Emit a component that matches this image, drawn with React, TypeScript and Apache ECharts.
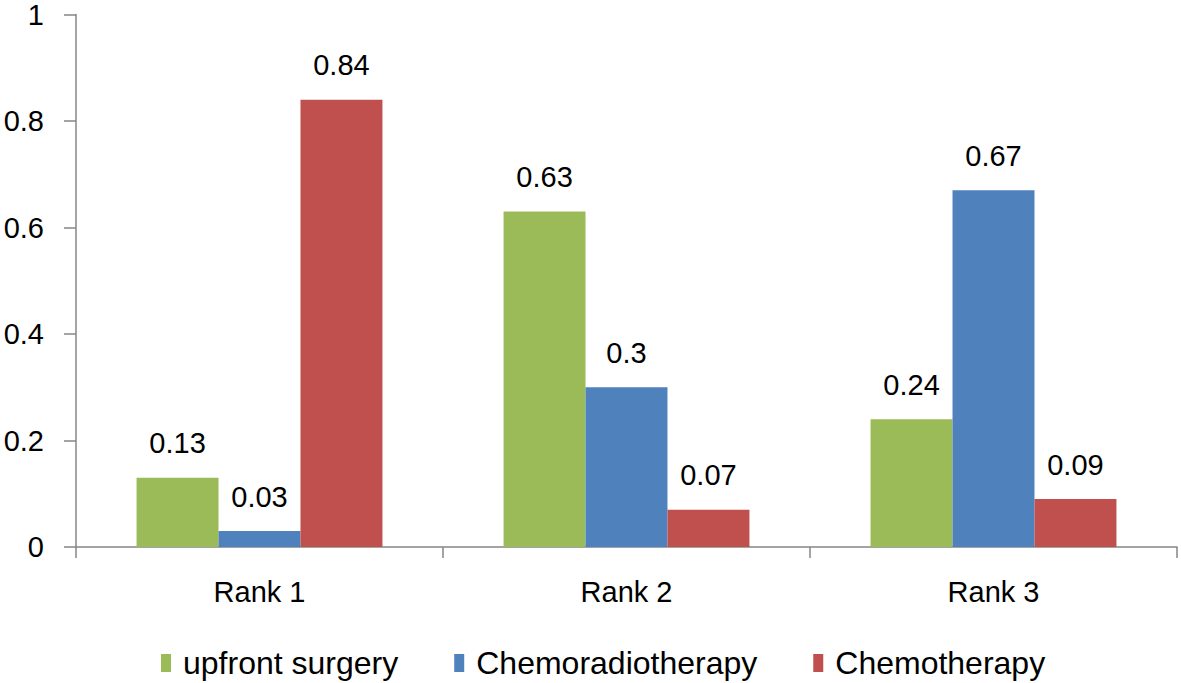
import React, { useEffect, useRef } from "react";
import * as echarts from "echarts";

const categories = ["Rank 1", "Rank 2", "Rank 3"];
const seriesNames = ["upfront surgery", "Chemoradiotherapy", "Chemotherapy"];
const upfrontSurgery = [0.13, 0.63, 0.24];
const chemoradiotherapy = [0.03, 0.3, 0.67];
const chemotherapy = [0.84, 0.07, 0.09];
const colors = ["#9BBB59", "#4F81BD", "#C0504D"];

const FONT = "'Liberation Sans', Arial, sans-serif";

export default function App() {
  const ref = useRef<HTMLDivElement>(null);
  useEffect(() => {
    document.body.style.margin = "0";
    const chart = echarts.init(ref.current!, null, { renderer: "svg" });
    const values = [upfrontSurgery, chemoradiotherapy, chemotherapy];
    chart.setOption({
      animation: false,
      backgroundColor: "#ffffff",
      textStyle: { fontFamily: FONT },
      grid: { left: 76, right: 4, top: 14, bottom: 136, containLabel: false },
      legend: {
        top: 647,
        left: 161,
        padding: 0,
        itemWidth: 10,
        itemHeight: 18,
        itemGap: 56,
        icon: "rect",
        textStyle: { fontSize: 32, color: "#000", fontFamily: FONT, padding: [0, 0, 0, 7] },
        data: seriesNames,
      },
      xAxis: {
        type: "category",
        data: categories,
        axisLine: { lineStyle: { color: "#868686", width: 1.5 } },
        axisTick: { show: true, length: 11, lineStyle: { color: "#868686", width: 1.5 } },
        axisLabel: { fontSize: 29, color: "#000", margin: 30, fontFamily: FONT },
        splitLine: { show: false },
      },
      yAxis: {
        type: "value",
        min: 0,
        max: 1,
        interval: 0.2,
        axisLine: { show: true, lineStyle: { color: "#868686", width: 1.5 } },
        axisTick: { show: true, length: 12, lineStyle: { color: "#868686", width: 1.5 } },
        axisLabel: { fontSize: 29, color: "#000", margin: 32, fontFamily: FONT },
        splitLine: { show: false },
      },
      series: seriesNames.map((name, i) => ({
        name,
        type: "bar",
        data: values[i],
        barGap: "0%",
        barCategoryGap: "33%",
        itemStyle: { color: colors[i] },
        label: {
          show: true,
          position: "top",
          distance: 20,
          fontSize: 29,
          color: "#000",
          fontFamily: FONT,
        },
      })),
    });
    return () => chart.dispose();
  }, []);
  return <div ref={ref} style={{ width: 1181, height: 683 }} />;
}
